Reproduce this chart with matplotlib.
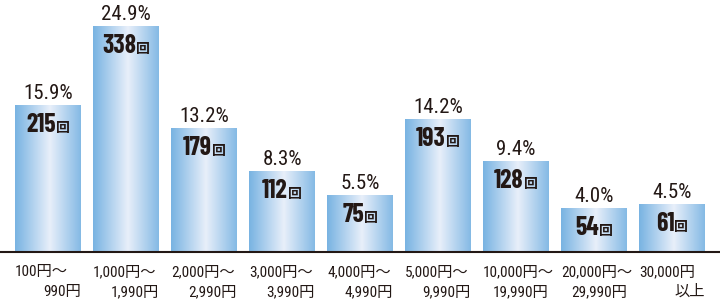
import numpy as np
import matplotlib
matplotlib.use("Agg")
import matplotlib.pyplot as plt
from matplotlib import font_manager
from matplotlib.colors import to_rgb

# Data
counts = [215, 338, 179, 112, 75, 193, 128, 54, 61]
percents = ["15.9%", "24.9%", "13.2%", "8.3%", "5.5%", "14.2%", "9.4%", "4.0%", "4.5%"]
label_top = ["100円～", "1,000円～", "2,000円～", "3,000円～", "4,000円～",
             "5,000円～", "10,000円～", "20,000円～", "30,000円"]
label_bottom = ["990円", "1,990円", "2,990円", "3,990円", "4,990円",
                "9,990円", "19,990円", "29,990円", "以上"]

installed = {f.name for f in font_manager.fontManager.ttflist}


def pick(*names):
    for n in names:
        if n in installed:
            return n
    return "DejaVu Sans"


cjk = "Noto Sans CJK JP"
cond = pick("Roboto Condensed", "Barlow Condensed", "Archivo Narrow")
bold_cond = pick("Barlow Condensed", "Roboto Condensed", "Archivo Narrow")

ink = "#231815"

fig = plt.figure(figsize=(7.2, 3.04), dpi=100)
ax = fig.add_axes([0, 52 / 304, 1, 252 / 304])

ymin, ymax = -14.2, 378.7
width = 0.846
x = np.arange(len(counts))
heights = np.array(counts) - ymin
bars = ax.bar(x, heights, bottom=ymin, width=width, color="none", edgecolor="none")

# horizontal gradient: blue edges, pale centre
edge = np.array(to_rgb("#78b3e2"))
centre = np.array(to_rgb("#e8effa"))
t = np.linspace(0, 1, 200)
w = np.clip(1 - np.abs(t - 0.53) / 0.53, 0, 1)
grad = (edge[None, :] * (1 - w[:, None]) + centre[None, :] * w[:, None])[None, :, :]

for b in bars:
    im = ax.imshow(grad, extent=[b.get_x(), b.get_x() + b.get_width(),
                                 b.get_y(), b.get_y() + b.get_height()],
                   aspect="auto", zorder=1, interpolation="bilinear")
    im.set_clip_path(b)

ax.set_xlim(-48 / 78, (720 - 48) / 78)
ax.set_ylim(ymin, ymax)
for s in ["top", "left", "right"]:
    ax.spines[s].set_visible(False)
ax.spines["bottom"].set_linewidth(1.5)
ax.spines["bottom"].set_color(ink)
ax.spines["bottom"].set_zorder(3)
ax.set_xticks([])
ax.set_yticks([])

renderer = fig.canvas.get_renderer()
for i, (c, p) in enumerate(zip(counts, percents)):
    ax.annotate(p, xy=(i, c), xytext=(0, 4.3), textcoords="offset points",
                ha="center", va="baseline", fontsize=15, color=ink, family=[cond, cjk])
    t1 = ax.annotate(str(c), xy=(i, c), xytext=(0, -19.5), textcoords="offset points",
                     ha="left", va="baseline", fontsize=18.5, weight="bold",
                     color=ink, family=[bold_cond, cjk], zorder=4)
    t2 = ax.annotate("回", xy=(i, c), xytext=(0, -19.5), textcoords="offset points",
                     ha="left", va="baseline", fontsize=10, weight="bold",
                     color=ink, family=[cjk], zorder=4)
    w1 = t1.get_window_extent(renderer).width * 72 / fig.dpi
    w2 = t2.get_window_extent(renderer).width * 72 / fig.dpi
    start = -(w1 + w2) / 2
    t1.set_position((start, -19.5))
    t2.set_position((start + w1, -19.5))

for i, (a, b) in enumerate(zip(label_top, label_bottom)):
    ax.annotate(a, xy=(i - width / 2, 0), xycoords=("data", "axes fraction"),
                xytext=(0, -17.3), textcoords="offset points",
                ha="left", va="baseline", fontsize=11, color=ink, family=[cond, cjk])
    ax.annotate(b, xy=(i + width / 2, 0), xycoords=("data", "axes fraction"),
                xytext=(0, -31.7), textcoords="offset points",
                ha="right", va="baseline", fontsize=11, color=ink, family=[cond, cjk])

fig.savefig("out.png", dpi=100)
